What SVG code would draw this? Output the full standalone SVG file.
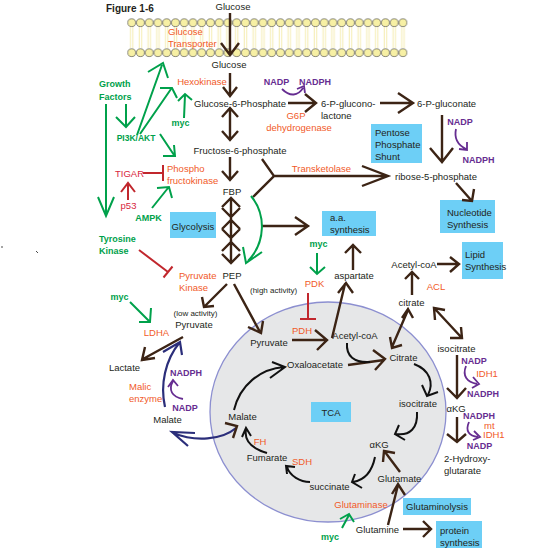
<svg xmlns="http://www.w3.org/2000/svg" width="535" height="548" viewBox="0 0 535 548">
<defs>
<pattern id="lip" patternUnits="userSpaceOnUse" x="127.325" y="18" width="8.75" height="40">
<line x1="3.2" y1="9" x2="3.2" y2="30" stroke="#efe07a" stroke-width="0.6"/>
<line x1="5.6" y1="9" x2="5.6" y2="30" stroke="#efe07a" stroke-width="0.6"/>
<circle cx="4.375" cy="4.7" r="3.9" fill="#f7f0a4" stroke="#3a3a3a" stroke-width="0.6"/>
<circle cx="4.375" cy="34.7" r="3.9" fill="#f7f0a4" stroke="#3a3a3a" stroke-width="0.6"/>
</pattern>
</defs>
<style>
text{font-family:"Liberation Sans",Arial,sans-serif;font-size:9.5px;fill:#231f20}
.m{text-anchor:middle}
.e{fill:#f15a29}
.g{fill:#00a14b;font-weight:bold;font-size:9px}
.p{fill:#662d91;font-weight:bold;font-size:9px}
.r{fill:#d7263d}
.s{font-size:8px}
.box{fill:#6dcff6}
.br{stroke:#3c2415;stroke-width:2.4;fill:none;stroke-linejoin:miter}
.gr{stroke:#00a14b;stroke-width:2;fill:none}
.rd{stroke:#c1272d;stroke-width:2;fill:none}
.pu{stroke:#662d91;stroke-width:1.8;fill:none}
.nv{stroke:#2b2e7a;stroke-width:2.2;fill:none}
.bk{stroke:#111;stroke-width:2;fill:none}
</style>
<rect width="535" height="548" fill="#fff"/>
<g id="membrane">
<rect x="127.325" y="18" width="280" height="40" fill="url(#lip)"/>
</g>
<g id="tca-circle">
<ellipse cx="328" cy="412" rx="118" ry="110" fill="#e6e7e8" stroke="#8c8fd0" stroke-width="1.3"/>
</g>
<g id="boxes">
<rect class="box" x="371" y="124" width="51" height="39"/>
<rect class="box" x="440" y="200" width="55" height="33"/>
<rect class="box" x="322" y="211" width="54" height="25"/>
<rect class="box" x="462" y="242" width="41" height="37"/>
<rect class="box" x="170" y="212" width="46" height="26"/>
<rect class="box" x="311" y="402" width="40" height="20"/>
<rect class="box" x="403" y="498" width="68" height="17"/>
<rect class="box" x="436" y="521" width="46" height="27"/>
</g>
<g id="connectors">
<path class="br" d="M230,13V55M221,43L230,55L239,43"/>
<path class="br" d="M230,73V96M223,87L230,96L237,87"/>
<path class="br" d="M230,109V139M222,117L230,108L238,117M222,131L230,140L238,131"/>
<path class="br" d="M230,157V180M222,171L230,180L238,171"/>
<path class="br" d="M231,199V262M222,207L231,198L240,207M222,208L231,217L240,208M222,229L231,220L240,229M222,229L231,238L240,229M222,251L231,242L240,251M222,254L231,263L240,254"/>
<path class="br" d="M262,159L274,176L253,197M274,176H387M362,166L388,176L362,186"/>
<path class="br" d="M262,226H307M295,217L308,226L295,235"/>
<path class="br" d="M288,103H315M305,94L316,103L305,112"/>
<path class="br" d="M380,103H412M398,93L413,103L398,113"/>
<path class="br" d="M442,115V161M430,148L442,162L453,148"/>
<path class="br" d="M456,183L471,200M462,200L472,201L474,189"/>
<path class="br" d="M227,284L205,306M202,297L204,307L214,306"/>
<path class="br" d="M234,284L260,332M248,327L261,333L263,321"/>
<path class="br" d="M183,337L143,359M145,347L142,360L155,358"/>
<path class="br" d="M292,340H326M315,330L327,340L317,350"/>
<path class="br" d="M332,338L345,284M338,293L346,283L353,293"/>
<path class="br" d="M353,270V246M345,253L353,245L361,253"/>
<path class="br" d="M348,365L384,360M373,350L385,359L375,370"/>
<path class="bk" d="M347,343C346,356 354,363 370,362"/>
<path class="br" d="M392,347L408,310M390,337L392,348L402,345M402,318L408,309L413,318"/>
<path class="br" d="M412,295V273M405,279L412,272L419,279"/>
<path class="br" d="M437,264H458M450,257L459,264L450,272"/>
<path class="br" d="M435,309L461,337M435,320L434,308L445,310M450,338L462,338L461,327"/>
<path class="br" d="M457,355V397M447,388L457,398L466,388"/>
<path class="br" d="M457,417V441M447,434L457,442L466,434"/>
<path class="bk" d="M234,410C240,385 260,369 284,367M272,362L285,367L270,378"/>
<path class="bk" d="M414,364C430,370 434,383 428,395M422,385L427,396L438,392"/>
<path class="bk" d="M417,412C418,428 410,436 396,434M399,425L395,434L405,440"/>
<path class="bk" d="M375,457C372,472 365,480 353,482M355,474L352,482L362,488"/>
<path class="bk" d="M310,482C300,482 290,476 287,467M287,474L286,466L295,467"/>
<path class="bk" d="M267,453C250,448 244,440 246,429M242,437L246,428L251,436"/>
<path class="br" d="M400,472L385,452M383,462L384,451L395,453"/>
<path class="br" d="M388,525L398,485M392,494L398,484L405,495"/>
<path class="br" d="M403,529H430M423,521L431,529L423,537"/>
<path class="nv" d="M165,407C160,385 165,360 180,342M163,352L180,342L182,355"/>
<path class="nv" d="M236,428C222,440 195,442 173,433M195,433L172,432L188,446"/>
<path class="br" d="M225,423L237,426L233,438"/>
<path class="pu" d="M282,89C290,97 298,96 303,88M297,89L304,86L305,93"/>
<path class="pu" d="M456,129C454,138 458,145 466,149M459,149L467,150L467,142"/>
<path class="pu" d="M183,399C172,397 168,390 173,381M168,387L173,380L178,386"/>
<path class="pu" d="M466,366C462,376 467,382 477,384M473,377L479,384L472,388"/>
<path class="pu" d="M469,422C465,431 469,436 478,437M474,431L480,437L473,440"/>
<path class="gr" d="M106,104V215M98,197L106,216L114,197"/>
<path class="gr" d="M126,104V126M116,117L126,127L135,117"/>
<path class="gr" d="M137,135L162,65M148,72L163,63L168,78"/>
<path class="gr" d="M140,134L171,89M160,88L172,88L177,98"/>
<path class="gr" d="M184,118L185,95M178,101L185,94L192,100"/>
<path class="gr" d="M160,134L174,155M163,156L175,156L174,145"/>
<path class="gr" d="M152,208L168,188M157,188L169,187L172,198"/>
<path class="gr" d="M251,196C266,214 266,242 248,261M243,247L246,263L262,252"/>
<path class="gr" d="M130,302L149,321M139,322L150,322L151,308"/>
<path class="gr" d="M317,253V273M310,267L317,274L325,267"/>
<path class="gr" d="M342,528L349,515M340,519L349,514L354,522"/>
<path class="rd" d="M143,173H163M163,165V181"/>
<path class="rd" d="M128,200V184M121,192L128,183L135,192"/>
<path class="rd" d="M139,250L168,272M163.5,277.5L172.5,266.5"/>
<path class="rd" d="M308,293V319M300,319H316"/>
</g>
<g id="title"><text x="106" y="12" style="font-weight:bold;font-size:10px">Figure 1-6</text></g>
<g id="glucose-out"><text class="m" x="233" y="10">Glucose</text></g>
<g id="glucose-transporter"><text class="e" x="168" y="35">Glucose</text><text class="e" x="168" y="47">Transporter</text></g>
<g id="glucose-in"><text class="m" x="229" y="68">Glucose</text></g>
<g id="hexokinase"><text class="e m" x="202" y="84.5">Hexokinase</text></g>
<g id="g6p"><text class="m" x="240" y="106.5">Glucose-6-Phosphate</text></g>
<g id="nadp1"><text class="p m" x="276.5" y="84.5">NADP</text><text class="p m" x="315" y="84.5">NADPH</text></g>
<g id="g6pdh"><text class="e m" x="296" y="118.5">G6P</text><text class="e m" x="299" y="130.5">dehydrogenase</text></g>
<g id="pgl"><text x="321" y="106.5">6-P-glucono-</text><text x="321" y="118.5">lactone</text></g>
<g id="pg"><text x="417" y="106.5">6-P-gluconate</text></g>
<g id="nadp2"><text class="p m" x="460" y="124.5">NADP</text><text class="p m" x="478.5" y="162.5">NADPH</text></g>
<g id="pentose"><text x="375" y="135.5">Pentose</text><text x="375" y="147.5">Phosphate</text><text x="375" y="159.5">Shunt</text></g>
<g id="f6p"><text class="m" x="240" y="154">Fructose-6-phosphate</text></g>
<g id="transketolase"><text class="e m" x="321.5" y="172">Transketolase</text></g>
<g id="r5p"><text class="m" x="436" y="179.5">ribose-5-phosphate</text></g>
<g id="nucleotide"><text x="447" y="216">Nucleotide</text><text x="447" y="227.5">Synthesis</text></g>
<g id="fbp"><text class="m" x="232" y="194.5">FBP</text></g>
<g id="pfk"><text class="e" x="167" y="171.5">Phospho</text><text class="e" x="167" y="183.5">fructokinase</text></g>
<g id="tigar"><text class="r m" x="129.5" y="176.5">TIGAR</text></g>
<g id="p53"><text class="r m" x="128.5" y="208.5">p53</text></g>
<g id="ampk"><text class="g m" x="148.5" y="220.5">AMPK</text></g>
<g id="pi3k"><text class="g m" x="136" y="141" style="font-size:8.5px">PI3K/AKT</text></g>
<g id="growth"><text class="g" x="99" y="86.5">Growth</text><text class="g" x="99" y="99.5">Factors</text></g>
<g id="myc1"><text class="g m" x="180.5" y="125.5">myc</text></g>
<g id="glycolysis"><text class="m" x="193" y="229.5">Glycolysis</text></g>
<g id="aa"><text x="330" y="220.5">a.a.</text><text x="330" y="232.5">synthesis</text></g>
<g id="tyrosine"><text class="g" x="99" y="241.5">Tyrosine</text><text class="g" x="99" y="253.5">Kinase</text></g>
<g id="pk"><text class="e" x="179" y="278.5">Pyruvate</text><text class="e" x="179" y="290.5">Kinase</text></g>
<g id="pep"><text class="m" x="232" y="278.5">PEP</text></g>
<g id="myc2"><text class="g m" x="318.5" y="246.5">myc</text></g>
<g id="pdk"><text class="e m" x="314.5" y="286.5">PDK</text></g>
<g id="aspartate"><text class="m" x="354" y="278.5">aspartate</text></g>
<g id="acoa-out"><text class="m" x="414" y="267.5">Acetyl-coA</text></g>
<g id="lipid"><text x="465" y="257.5">Lipid</text><text x="465" y="269.5">Synthesis</text></g>
<g id="high"><text class="s" x="250" y="293">(high activity)</text></g>
<g id="low"><text class="s m" x="195.5" y="316">(low activity)</text></g>
<g id="acl"><text class="e m" x="436" y="289.5">ACL</text></g>
<g id="citrate-out"><text class="m" x="411.5" y="305.5">citrate</text></g>
<g id="pyruvate-cyt"><text class="m" x="194" y="327.5">Pyruvate</text></g>
<g id="myc3"><text class="g m" x="119.5" y="300">myc</text></g>
<g id="ldha"><text class="e m" x="156.5" y="335.5">LDHA</text></g>
<g id="pyruvate-mit"><text class="m" x="269" y="345.5">Pyruvate</text></g>
<g id="pdh"><text class="e m" x="302" y="333.5">PDH</text></g>
<g id="acoa-in"><text class="m" x="355" y="338.5">Acetyl-coA</text></g>
<g id="isocitrate-out"><text class="m" x="456.5" y="352">isocitrate</text></g>
<g id="idh1"><text class="p m" x="474" y="363.5">NADP</text><text class="e m" x="487" y="376.5">IDH1</text><text class="p m" x="483" y="397">NADPH</text></g>
<g id="oaa"><text class="m" x="315" y="367.5">Oxaloacetate</text></g>
<g id="citrate-in"><text class="m" x="403.5" y="360.5">Citrate</text></g>
<g id="lactate"><text class="m" x="124.5" y="371">Lactate</text></g>
<g id="malic"><text class="p m" x="186" y="375.5">NADPH</text><text class="p m" x="185" y="410.5">NADP</text><text class="e" x="129" y="389.5">Malic</text><text class="e" x="129" y="401.5">enzyme</text></g>
<g id="isocitrate-in"><text class="m" x="418" y="406.5">isocitrate</text></g>
<g id="akg-out"><text class="m" x="456" y="412">αKG</text></g>
<g id="mtidh1"><text class="p m" x="479" y="419">NADPH</text><text class="e" x="484" y="428.5">mt</text><text class="e" x="483" y="438">IDH1</text><text class="p m" x="479.5" y="449">NADP</text></g>
<g id="tca"><text class="m" x="331" y="415.5">TCA</text></g>
<g id="malate-in"><text class="m" x="242.5" y="419.5">Malate</text></g>
<g id="malate-out"><text class="m" x="167.5" y="422.5">Malate</text></g>
<g id="fh"><text class="e m" x="260" y="444.5">FH</text></g>
<g id="akg-in"><text class="m" x="379" y="447.5">αKG</text></g>
<g id="fumarate"><text class="m" x="267" y="460.5">Fumarate</text></g>
<g id="sdh"><text class="e m" x="302" y="464.5">SDH</text></g>
<g id="hg"><text x="444" y="461.5">2-Hydroxy-</text><text x="444" y="473.5">glutarate</text></g>
<g id="glutamate"><text class="m" x="399.5" y="481.5">Glutamate</text></g>
<g id="succinate"><text class="m" x="329.5" y="489.5">succinate</text></g>
<g id="glutaminase"><text class="e m" x="361" y="507.5">Glutaminase</text></g>
<g id="glutaminolysis"><text class="m" x="437" y="509.5">Glutaminolysis</text></g>
<g id="glutamine"><text class="m" x="377.5" y="532.5">Glutamine</text></g>
<g id="protein"><text x="440" y="533.5">protein</text><text x="440" y="545.5">synthesis</text></g>
<g id="myc4"><text class="g m" x="330" y="539.5">myc</text></g>
<g id="marks"><circle cx="2" cy="247" r="0.8" fill="#333"/><path d="M36,251L38,253" stroke="#333" stroke-width="0.9"/></g>
</svg>
